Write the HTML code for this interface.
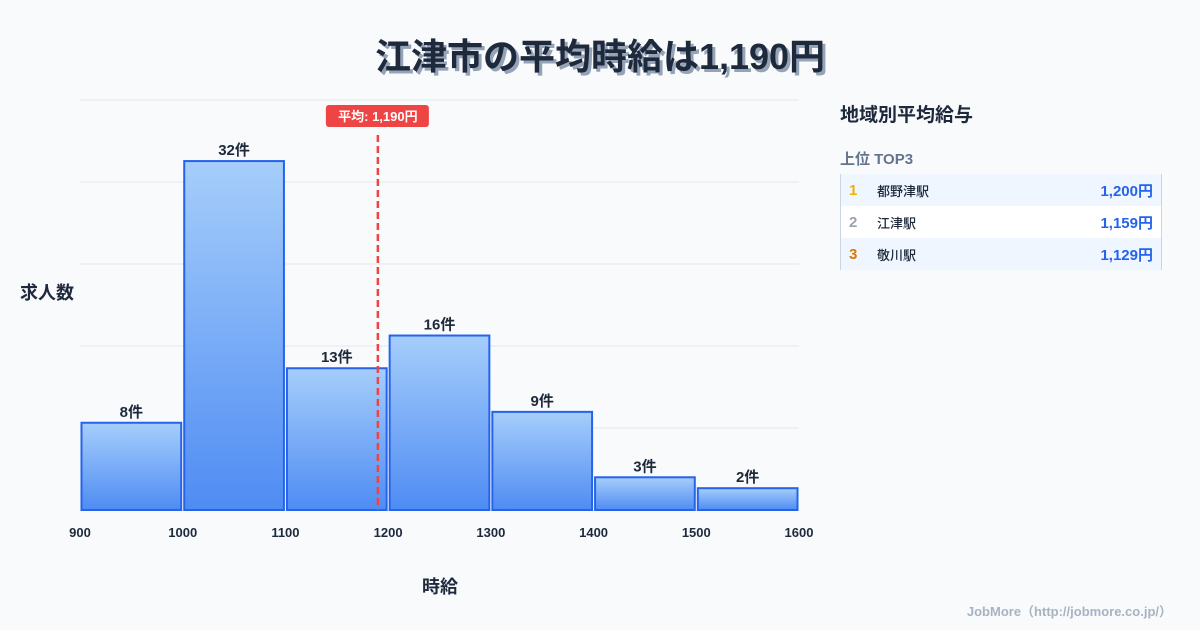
<!DOCTYPE html>
<html><head><meta charset="utf-8"><style>
body{margin:0;width:1200px;height:630px;background:#f8fafc;font-family:"Liberation Sans","Noto Sans CJK JP",sans-serif;overflow:hidden;position:relative}
.title{position:absolute;top:28px;left:0;width:1200px;text-align:center;font-size:36px;font-weight:700;color:#1e293b;text-shadow:3px 3px 0 #94a3b8}
.panel{position:absolute;left:840px;top:100px;width:322px}
.ph{font-size:19px;font-weight:700;color:#1e293b;height:32px}
.sub{font-size:15px;font-weight:700;color:#64748b;margin-top:16px;height:26px}
.tbl{border-left:1px solid #cbd5e1;border-right:1px solid #cbd5e1}
.row{height:32px;display:flex;align-items:center;font-size:13px;color:#1e293b;font-weight:500}
.row:nth-child(odd){background:#eff6ff}.row:nth-child(even){background:#fff}
.rk{width:28px;padding-left:8px;font-size:15px;font-weight:700}
.nm{flex:1}
.val{padding-right:8px;color:#2563eb;font-weight:700;font-size:15px}
.foot{position:absolute;right:28px;bottom:10px;font-size:13px;font-weight:700;color:#a8b3c2}
</style></head><body>
<div class="title">江津市の平均時給は1,190円</div>
<svg id="chart" width="1200" height="630" style="position:absolute;left:0;top:0">
<defs><linearGradient id="g" x1="0" y1="0" x2="0" y2="1"><stop offset="0" stop-color="#a6cefb"/><stop offset="1" stop-color="#4f8cf3"/></linearGradient></defs>
</svg>
<div class="panel">
<div class="ph">地域別平均給与</div>
<div class="sub">上位 TOP3</div>
<div class="tbl">
<div class="row"><span class="rk" style="color:#eab308">1</span><span class="nm">都野津駅</span><span class="val">1,200円</span></div>
<div class="row"><span class="rk" style="color:#9ca3af">2</span><span class="nm">江津駅</span><span class="val">1,159円</span></div>
<div class="row"><span class="rk" style="color:#d97706">3</span><span class="nm">敬川駅</span><span class="val">1,129円</span></div>
</div></div>
<div class="foot">JobMore（http://jobmore.co.jp/）</div>
<script>
const binStarts=[900,1000,1100,1200,1300,1400,1500];
const counts=[8,32,13,16,9,3,2];
const xTicks=[900,1000,1100,1200,1300,1400,1500,1600];
const meanValue=1190;
const meanLabel="平均: 1,190円";
const svg=document.getElementById('chart');
const NS='http://www.w3.org/2000/svg';
const x0=80,x1=799,yB=510,yT=100,xmin=900,xmax=1600,ymax=37.6;
const X=v=>x0+(v-xmin)/(xmax-xmin)*(x1-x0);
const Y=v=>yB-v/ymax*(yB-yT);
function mk(t,a,txt){const e=document.createElementNS(NS,t);for(const k in a)e.setAttribute(k,a[k]);if(txt!=null)e.textContent=txt;svg.appendChild(e);return e;}
for(let i=0;i<=5;i++){const y=yT+i*(yB-yT)/5;
const g=mk('line',{x1:x0,x2:x1,y1:y,y2:y,stroke:'#e2e8f0','stroke-width':1});

}
binStarts.forEach((b,i)=>{const xa=X(b)+1.5,xb=X(b+100)-1.5,y=Y(counts[i]);
const r=mk('rect',{x:xa,y:y,width:xb-xa,height:yB-y,fill:'url(#g)',stroke:'#2563eb','stroke-width':2});


const t=mk('text',{x:(xa+xb)/2,y:y-6,'text-anchor':'middle','font-size':15,'font-weight':700,fill:'#1e293b'},counts[i]+'件');

});
xTicks.forEach(v=>{const t=mk('text',{x:X(v),y:537,'text-anchor':'middle','font-size':13,'font-weight':700,fill:'#1e293b'},v);

});
const mx=X(meanValue);
const ml=mk('line',{x1:mx,x2:mx,y1:135,y2:yB,stroke:'#ef4444','stroke-width':2.5,'stroke-dasharray':'7,4'});


const mr=mk('rect',{x:mx-52,y:105,width:103,height:22,rx:3,fill:'#ef4444'});


const mt=mk('text',{x:mx,y:121,'text-anchor':'middle','font-size':13,'font-weight':700,fill:'#fff'},meanLabel);


const yt=mk('text',{x:20,y:299,'font-size':18,'font-weight':700,fill:'#1e293b'},'求人数');


const xt=mk('text',{x:440,y:593,'text-anchor':'middle','font-size':18,'font-weight':700,fill:'#1e293b'},'時給');


</script>
</body></html>
